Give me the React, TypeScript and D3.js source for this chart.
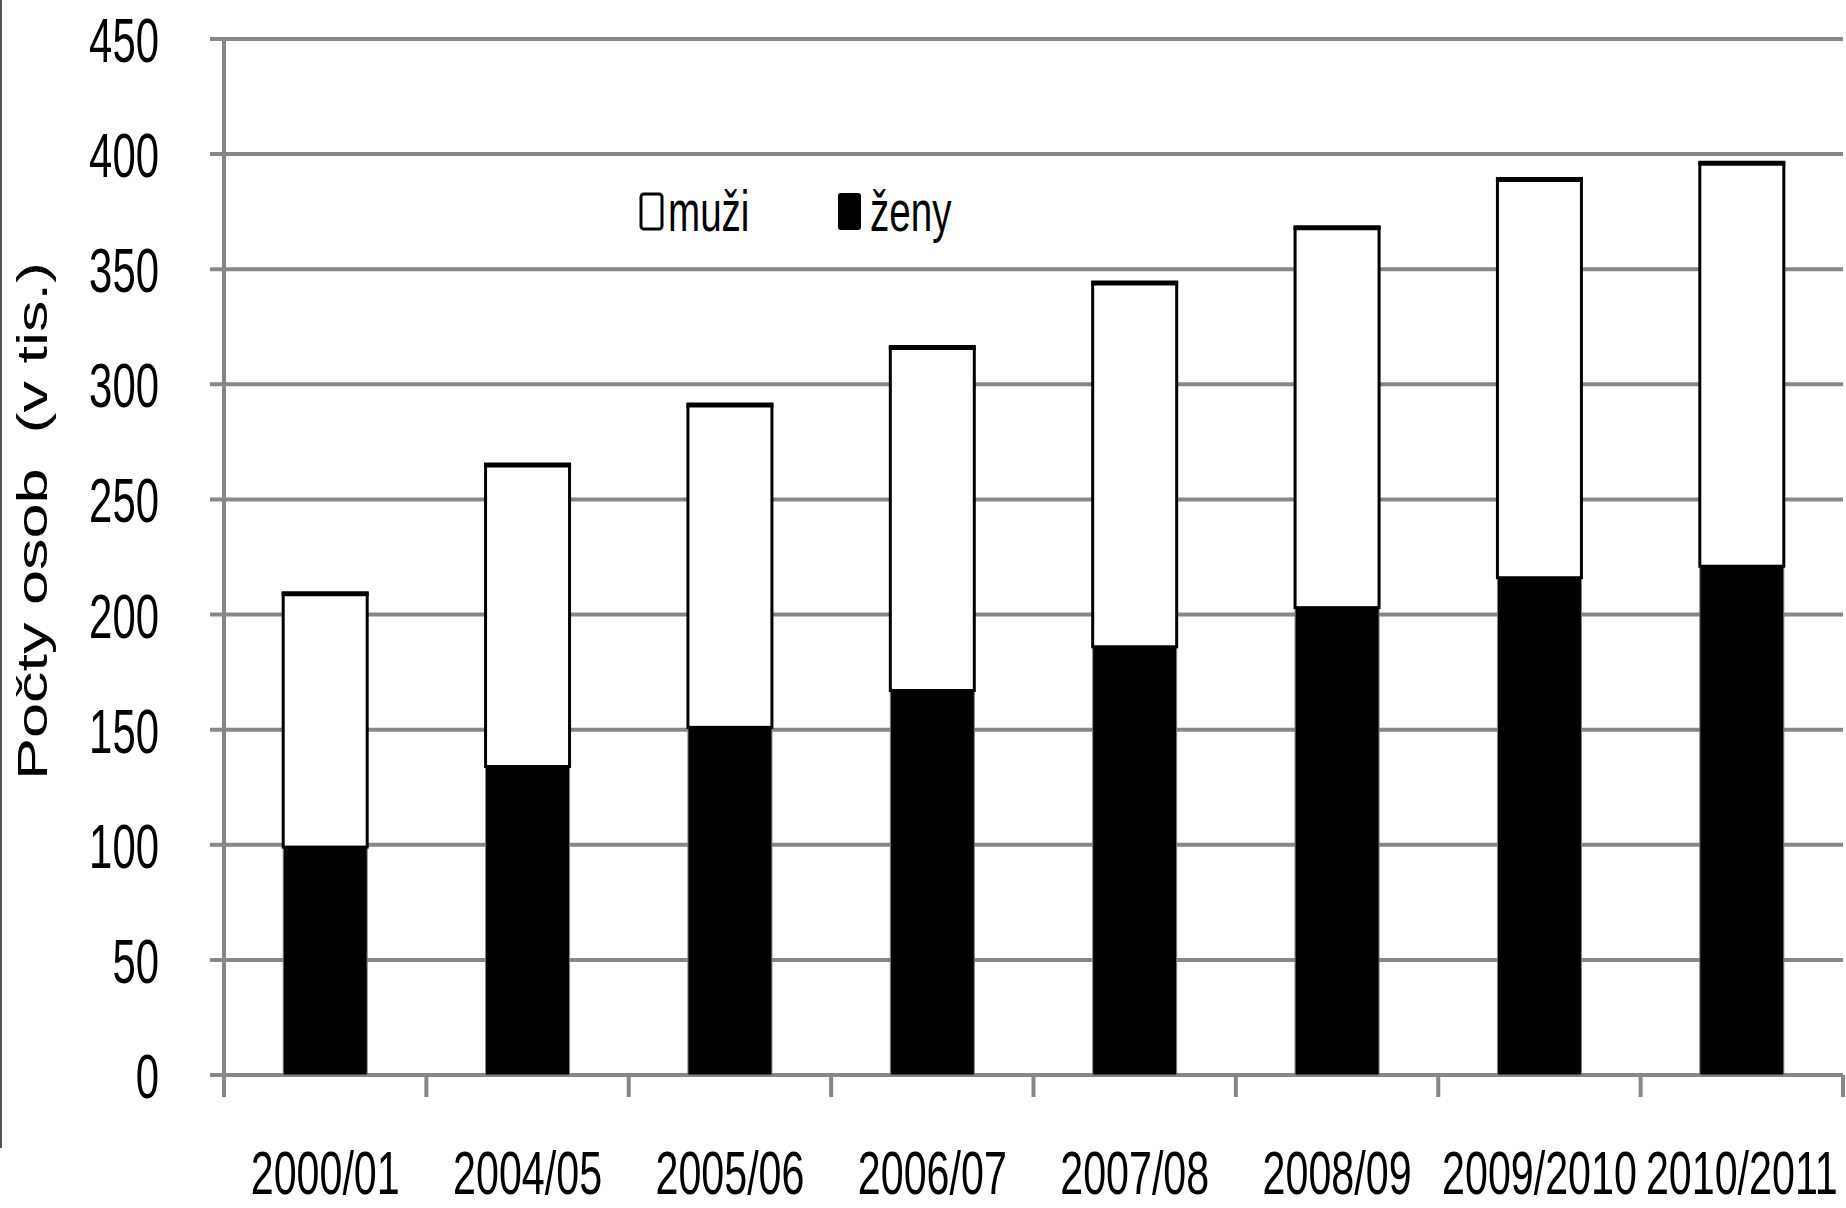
import React, { useEffect } from "react";
import * as d3 from "d3";

const categories = ["2000/01", "2004/05", "2005/06", "2006/07", "2007/08", "2008/09", "2009/2010", "2010/2011"];
const zeny = [99, 134, 151, 167, 186, 203, 216, 221];
const muzi = [110, 131, 140, 149, 158, 165, 173, 175];
const yTicks = [0, 50, 100, 150, 200, 250, 300, 350, 400, 450];
const seriesNames = { zeny: "ženy", muzi: "muži" };
const yTitle = "Počty osob  (v tis.)";

const W = 1846;
const H = 1208;
const FONT = "'Liberation Sans', Arial, sans-serif";
const SX = 0.665;
const GRID = "#878787";

export default function App() {
  useEffect(() => {
    document.body.style.margin = "0";
  }, []);

  const x = d3.scaleBand<string>().domain(categories).range([224, 1843]).paddingInner(0.585).paddingOuter(0.2925);
  const y = d3.scaleLinear().domain([0, 450]).range([1075, 39]);

  const rows = categories.map((c, i) => ({ cat: c, zeny: zeny[i], muzi: muzi[i] }));
  const stack = d3.stack<any>().keys(["zeny", "muzi"]);
  const series = stack(rows);
  const step = x.step();
  const bw = x.bandwidth();
  const x0 = x.range()[0];
  const x1 = x.range()[1];

  return (
    <svg width={W} height={H} style={{ display: "block", background: "#fff" }} fontFamily={FONT}>
      <rect x={0} y={0} width={W} height={H} fill="#fff" />
      {/* left border */}
      <line x1={1} x2={1} y1={0} y2={1148} stroke="#555" strokeWidth={2} />

      {/* gridlines */}
      {yTicks.map((t) => (
        <line key={"g" + t} x1={x0 - 14} x2={x1} y1={y(t)} y2={y(t)} stroke={GRID} strokeWidth={4} />
      ))}

      {/* bars */}
      {series.map((s) =>
        s.map((d: any, i: number) => {
          const bx = x(categories[i]) as number;
          const top = y(d[1]);
          const bot = y(d[0]);
          if (s.key === "zeny") {
            return (
              <rect key={s.key + i} x={bx} y={top} width={bw} height={bot - top} fill="#000" stroke="#808080" strokeWidth={1} />
            );
          }
          return (
            <g key={s.key + i}>
              <rect x={bx} y={top} width={bw} height={bot - top} fill="#fff" stroke="#000" strokeWidth={3} />
              <line x1={bx - 1.5} x2={bx + bw + 1.5} y1={top} y2={top} stroke="#000" strokeWidth={5} />
            </g>
          );
        })
      )}

      {/* y axis line */}
      <line x1={x0} x2={x0} y1={y(450) - 2} y2={y(0)} stroke={GRID} strokeWidth={4} />
      {/* x axis ticks */}
      {d3.range(categories.length + 1).map((i) => (
        <line key={"xt" + i} x1={x0 + i * step} x2={x0 + i * step} y1={y(0)} y2={y(0) + 22} stroke={GRID} strokeWidth={4} />
      ))}

      {/* y tick labels */}
      {yTicks.map((t) => (
        <text key={"yl" + t} transform={`translate(159,${y(t) + 23}) scale(${SX},1)`} textAnchor="end" fontSize={63} fill="#000">
          {t}
        </text>
      ))}

      {/* x labels */}
      {categories.map((c) => (
        <text
          key={"xl" + c}
          transform={`translate(${(x(c) as number) + bw / 2},1194) scale(${SX},1)`}
          textAnchor="middle"
          fontSize={62}
          fill="#000"
        >
          {c}
        </text>
      ))}

      {/* y title */}
      <text transform={`translate(47,521) rotate(-90) scale(1,${SX})`} textAnchor="middle" fontSize={63} fill="#000" style={{ whiteSpace: "pre" }}>
        {yTitle}
      </text>

      {/* legend */}
      <rect x={641} y={194} width={21} height={35} rx={3} fill="#fff" stroke="#000" strokeWidth={3} />
      <text transform={`translate(668,231) scale(${SX},1)`} fontSize={58} fill="#000">
        {seriesNames.muzi}
      </text>
      <rect x={838} y={193} width={23} height={37} rx={3} fill="#000" />
      <text transform={`translate(870,231) scale(${SX},1)`} fontSize={58} fill="#000">
        {seriesNames.zeny}
      </text>
    </svg>
  );
}
